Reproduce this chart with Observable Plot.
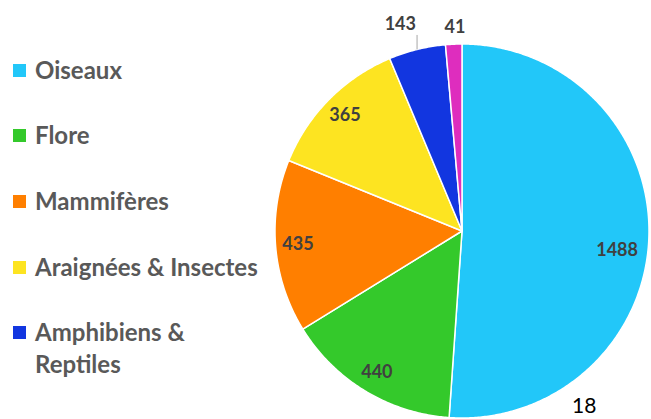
<!DOCTYPE html>
<html>
<head>
<meta charset="utf-8">
<script src="https://cdn.jsdelivr.net/npm/d3@7"></script>
<script src="https://cdn.jsdelivr.net/npm/@observablehq/plot@0.6"></script>
<style>
  html, body { margin: 0; padding: 0; background: #fff; }
  #wrap { position: relative; width: 651px; height: 419px; overflow: hidden; }
  #legend { position: absolute; left: 0; top: 0; font-family: Lato, "Open Sans", sans-serif; font-weight: bold; color: #595959; font-size: 24px; }
  .sw { position: absolute; left: 13px; width: 13px; height: 13px; }
  .lbl { position: absolute; left: 35px; line-height: 32px; white-space: nowrap; }
  #page { position: absolute; left: 572px; top: 393px; font-family: Lato, sans-serif; font-size: 21px; line-height: 24px; color: #000; }
</style>
</head>
<body>
<div id="wrap">
  <div id="chart"></div>
  <div id="legend"></div>
  <div id="page">18</div>
</div>
<script>
const categories = ["Oiseaux", "Flore", "Mammifères", "Araignées & Insectes", "Amphibiens & Reptiles", "Poissons"];
const values = [1488, 440, 435, 365, 143, 41];
const colors = ["#22C7F9", "#34C92B", "#FF7F00", "#FDE421", "#1236E0", "#DE2DBE"];
const legendLabels = ["Oiseaux", "Flore", "Mammifères", "Araignées & Insectes", "Amphibiens &<br>Reptiles"];

const data = categories.map((c, i) => ({category: c, value: values[i]}));
const arcs = d3.pie().sort(null).value(d => d.value).startAngle(0).endAngle(2 * Math.PI)(data);

// slice polygons (unit radius), angles clockwise from 12 o'clock
const poly = [];
arcs.forEach(a => {
  const n = Math.max(2, Math.ceil((a.endAngle - a.startAngle) / (Math.PI / 360)));
  poly.push({category: a.data.category, x: 0, y: 0});
  for (let k = 0; k <= n; k++) {
    const t = a.startAngle + (a.endAngle - a.startAngle) * k / n;
    poly.push({category: a.data.category, x: Math.sin(t), y: Math.cos(t)});
  }
  poly.push({category: a.data.category, x: 0, y: 0});
});

const labelStyle = {
  "Oiseaux": {r: 0.83, dx: 0, dy: 14},
  "Amphibiens & Reptiles": {r: 1.15, dx: -10, dy: 2},
  "Poissons": {r: 1.09, dx: 2, dy: 0}
};
const labels = arcs.map(a => {
  const m = (a.startAngle + a.endAngle) / 2;
  const s = labelStyle[a.data.category] || {r: 0.88, dx: 0, dy: 0};
  return {category: a.data.category, value: a.data.value, x: s.r * Math.sin(m), y: s.r * Math.cos(m), dx: s.dx, dy: s.dy};
});
const leader = arcs.filter(a => a.data.category === "Amphibiens & Reptiles").map(a => {
  const m = (a.startAngle + a.endAngle) / 2;
  return {x: Math.sin(m), y1: Math.cos(m), y2: 1.08 * Math.cos(m)};
});

const cx = 461.5, cy = 230.5, R = 187;
const chart = Plot.plot({
  width: 651,
  height: 419,
  margin: 0,
  x: {domain: [-1, 1], range: [cx - R, cx + R], axis: null},
  y: {domain: [-1, 1], range: [cy + R, cy - R], axis: null},
  color: {domain: categories, range: colors},
  style: {background: "transparent"},
  marks: [
    Plot.line(poly, {x: "x", y: "y", z: "category", fill: "category", stroke: "white", strokeWidth: 1.5, strokeLinejoin: "round", curve: "linear"}),
    Plot.link(leader, {x1: "x", x2: "x", y1: "y1", y2: "y2", stroke: "#a6a6a6", strokeWidth: 1}),
    ...labels.map(l => Plot.text([l], {x: "x", y: "y", text: d => String(d.value), dx: l.dx, dy: l.dy,
      fill: "#404040", fontSize: 18, fontWeight: "bold", fontFamily: "Lato, 'Open Sans', sans-serif"}))
  ]
});
document.getElementById("chart").appendChild(chart);

const lg = document.getElementById("legend");
const centers = [70, 135, 201, 267, 332];
legendLabels.forEach((t, i) => {
  const sw = document.createElement("div");
  sw.className = "sw";
  sw.style.top = (centers[i] - 6.5) + "px";
  sw.style.background = colors[i];
  lg.appendChild(sw);
  const lb = document.createElement("div");
  lb.className = "lbl";
  lb.style.top = (centers[i] - 16) + "px";
  lb.innerHTML = t;
  lg.appendChild(lb);
});
</script>
</body>
</html>
